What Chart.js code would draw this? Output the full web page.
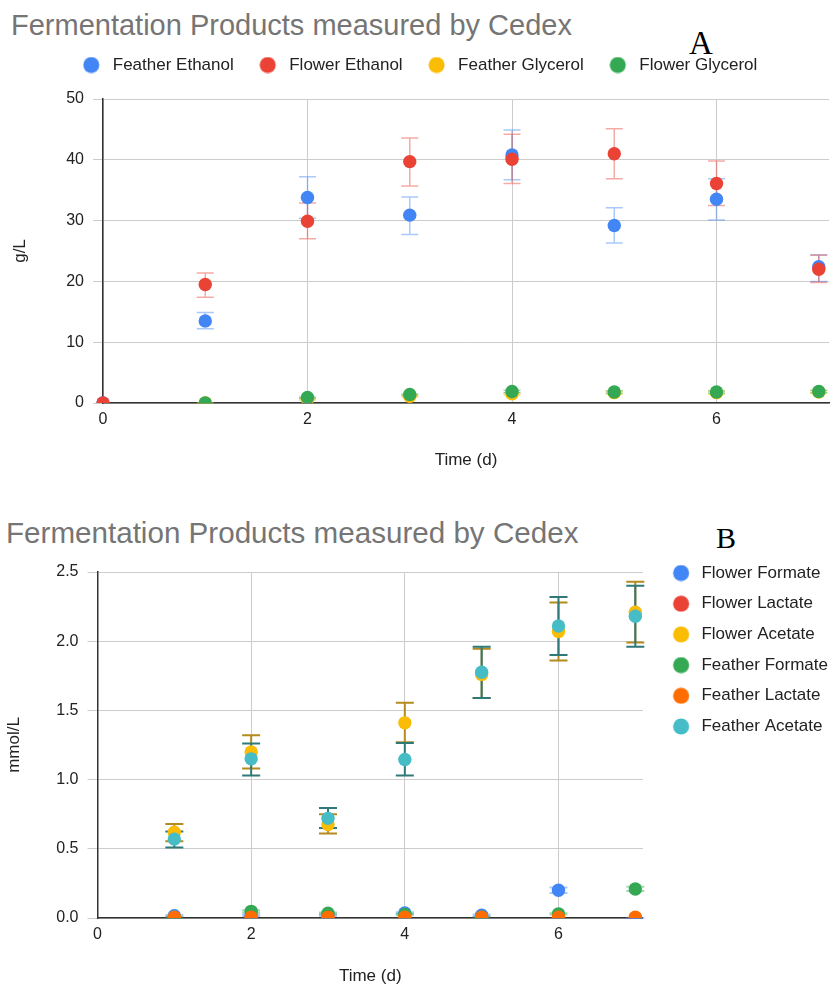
<!DOCTYPE html>
<html>
<head>
<meta charset="utf-8">
<title>Fermentation Products measured by Cedex</title>
<script src="https://cdn.jsdelivr.net/npm/chart.js@4/dist/chart.umd.min.js"></script>
<style>
  body { margin: 0; background: #fff; }
  #page { position: relative; width: 838px; height: 985px; overflow: hidden; }
  .title { position: absolute; color: #757575; font-family: "Liberation Sans", Arial, sans-serif; white-space: nowrap; }
  .tag { position: absolute; color: #000; font-family: "Liberation Serif", "Times New Roman", serif; white-space: nowrap; }
  canvas { position: absolute; left: 0; }
</style>
</head>
<body>
<div id="page">
  <div class="title" style="left:11px; top:11px; font-size:29px; line-height:29px">Fermentation Products measured by Cedex</div>
  <div class="tag" style="left:689px; top:27px; font-size:33px; line-height:33px">A</div>
  <canvas id="chartA" width="838" height="485" style="top:0"></canvas>

  <div class="title" style="left:6px; top:518px; font-size:29.6px; line-height:29.6px">Fermentation Products measured by Cedex</div>
  <div class="tag" style="left:716px; top:523px; font-size:30px; line-height:30px">B</div>
  <canvas id="chartB" width="838" height="500" style="top:490px"></canvas>
</div>

<script>
/* sampling days */
const days = [0, 1, 2, 3, 4, 5, 6, 7];

/* chart A - g/L */
const featherEthanol   = [0, 13.5, 33.8, 30.9, 40.8, 29.2, 33.5, 22.4];
const featherEthanolLo = [null, 12.2, 30.4, 27.7, 36.7, 26.3, 30.1, 20.0];
const featherEthanolHi = [null, 14.9, 37.2, 33.9, 44.9, 32.1, 36.9, 24.4];
const flowerEthanol    = [0, 19.5, 29.9, 39.7, 40.1, 41.0, 36.1, 22.0];
const flowerEthanolLo  = [null, 17.4, 27.0, 35.7, 36.1, 36.9, 32.5, 19.8];
const flowerEthanolHi  = [null, 21.4, 32.9, 43.6, 44.2, 45.1, 39.8, 24.3];
const featherGlycerol   = [null, 0, 0.6, 1.1, 1.5, 1.7, 1.7, 1.8];
const featherGlycerolLo = [null, 0, 0.5, 1.0, 1.3, 1.5, 1.5, 1.6];
const featherGlycerolHi = [null, 0, 0.7, 1.2, 1.7, 1.9, 1.9, 2.0];
const flowerGlycerol    = [null, 0, 0.9, 1.4, 1.9, 1.8, 1.8, 1.9];
const flowerGlycerolLo  = [null, 0, 0.8, 1.3, 1.7, 1.6, 1.6, 1.7];
const flowerGlycerolHi  = [null, 0, 1.0, 1.5, 2.1, 2.0, 2.0, 2.1];

/* chart B - mmol/L */
const flowerFormate    = [null, 0.017, 0.02, 0.02, 0.036, 0.02, 0.20, 0];
const flowerFormateLo  = [null, 0.012, 0.015, 0.015, 0.03, 0.015, 0.18, 0];
const flowerFormateHi  = [null, 0.022, 0.025, 0.025, 0.042, 0.025, 0.22, 0];
const flowerLactate    = [null, 0, 0, 0, 0, 0, 0, 0];
const flowerAcetate    = [null, 0.62, 1.20, 0.675, 1.41, 1.76, 2.07, 2.21];
const flowerAcetateLo  = [null, 0.555, 1.08, 0.61, 1.27, 1.59, 1.86, 1.99];
const flowerAcetateHi  = [null, 0.68, 1.32, 0.75, 1.555, 1.946, 2.28, 2.43];
const featherFormate   = [null, 0.005, 0.048, 0.034, 0.025, 0.005, 0.03, 0.21];
const featherFormateLo = [null, 0.003, 0.04, 0.028, 0.02, 0.003, 0.025, 0.195];
const featherFormateHi = [null, 0.007, 0.056, 0.04, 0.03, 0.007, 0.035, 0.225];
const featherLactate   = [null, 0.005, 0.005, 0.005, 0.005, 0.005, 0.005, 0.005];
const featherAcetate   = [null, 0.57, 1.15, 0.72, 1.145, 1.776, 2.11, 2.18];
const featherAcetateLo = [null, 0.51, 1.03, 0.65, 1.03, 1.59, 1.90, 1.96];
const featherAcetateHi = [null, 0.625, 1.26, 0.795, 1.264, 1.96, 2.32, 2.40];

const dayTicks = [0, 2, 4, 6];

const FONT = '"Liberation Sans", Arial, sans-serif';
Chart.defaults.font.family = FONT;
Chart.defaults.color = '#222';

/* build scatter points, skipping days without a measurement */
function points(values, lo, hi) {
  const out = [];
  days.forEach(function(d, i) {
    if (values[i] == null) return;
    out.push({x: d, y: values[i], lo: lo ? lo[i] : null, hi: hi ? hi[i] : null});
  });
  return out;
}

function series(label, values, lo, hi, color, errColor) {
  return {
    label: label,
    data: points(values, lo, hi),
    backgroundColor: color,
    borderColor: color,
    pointRadius: 6.7,
    pointBorderWidth: 0,
    pointHoverRadius: 6.7,
    errorColor: errColor,
    clip: {left: 10, right: 10, top: 10, bottom: 0},
    xAxisID: 'x',
    yAxisID: 'y'
  };
}

/* legend dot drawn off-centre in a small canvas, so the gap to the label matches */
function legendDot(color, w, cx) {
  const c = document.createElement('canvas');
  c.width = w; c.height = 17;
  const g = c.getContext('2d');
  g.fillStyle = color;
  g.beginPath();
  g.arc(cx, 8.5, 8, 0, Math.PI * 2);
  g.fill();
  return c;
}

function legendLabels(w, cx) {
  return function(chart) {
    const items = Chart.defaults.plugins.legend.labels.generateLabels(chart);
    items.sort(function(a, b) { return a.datasetIndex - b.datasetIndex; });
    items.forEach(function(it) { it.pointStyle = legendDot(it.fillStyle, w, cx); it.lineWidth = 0; });
    return items;
  };
}

/* error bars drawn through the chart's own scales */
const errorBars = {
  id: 'errorBars',
  beforeDatasetsDraw(chart, args, opts) {
    const ctx = chart.ctx;
    const xs = chart.scales.x;
    const ys = chart.scales.y;
    ctx.save();
    ctx.lineWidth = opts.width;
    chart.data.datasets.forEach(function(ds) {
      if (!ds.errorColor) return;
      ctx.strokeStyle = ds.errorColor;
      ds.data.forEach(function(p) {
        if (p.lo == null || p.hi == null) return;
        const px = xs.getPixelForValue(p.x);
        const top = ys.getPixelForValue(p.hi);
        const bot = ys.getPixelForValue(p.lo);
        ctx.beginPath();
        ctx.moveTo(px, top); ctx.lineTo(px, bot);
        ctx.moveTo(px - opts.cap, top); ctx.lineTo(px + opts.cap, top);
        ctx.moveTo(px - opts.cap, bot); ctx.lineTo(px + opts.cap, bot);
        ctx.stroke();
      });
    });
    ctx.restore();
  }
};

/* invisible axis used only as spacing in the layout */
function spacer(position, size) {
  return {
    type: 'linear',
    position: position,
    display: true,
    grid: {display: false, drawTicks: false},
    border: {display: false},
    ticks: {display: false},
    afterFit: function(s) { s.height = size; }
  };
}

function xAxis(height, titlePad) {
  return {
    type: 'linear',
    position: 'bottom',
    min: 0,
    max: 7.1,
    afterFit: function(s) { s.height = height; },
    afterBuildTicks: function(s) { s.ticks = dayTicks.map(function(v) { return {value: v}; }); },
    ticks: {padding: 7, font: {size: 16}, color: '#222'},
    grid: {color: '#cccccc', drawTicks: false},
    border: {color: '#333', width: 1.5},
    title: {display: true, text: 'Time (d)', font: {size: 17}, color: '#222', padding: {top: 0, bottom: titlePad}}
  };
}

function yAxis(width, max, step, text, titlePad, fmt) {
  return {
    type: 'linear',
    position: 'left',
    min: 0,
    max: max,
    afterFit: function(s) { s.width = width; },
    ticks: {stepSize: step, padding: 9, font: {size: 16}, color: '#222', callback: fmt},
    grid: {color: '#cccccc', tickLength: 10},
    border: {color: '#333', width: 1.5},
    title: {display: true, text: text, font: {size: 17}, color: '#222', padding: {top: titlePad, bottom: 0}}
  };
}

function reorder(list) {
  list.forEach(function(ds, i) { ds.order = list.length - 1 - i; });
  return list;
}

const app = {
  createChartA: function() {
    const ctx = document.getElementById('chartA').getContext('2d');
    new Chart(ctx, {
      type: 'scatter',
      data: {
        datasets: reorder([
          series('Feather Ethanol', featherEthanol, featherEthanolLo, featherEthanolHi, '#4285F4', 'rgba(66,133,244,0.45)'),
          series('Flower Ethanol', flowerEthanol, flowerEthanolLo, flowerEthanolHi, '#EA4335', 'rgba(234,67,53,0.45)'),
          series('Feather Glycerol', featherGlycerol, featherGlycerolLo, featherGlycerolHi, '#FBBC04', 'rgba(251,188,4,0.5)'),
          series('Flower Glycerol', flowerGlycerol, flowerGlycerolLo, flowerGlycerolHi, '#34A853', 'rgba(52,168,83,0.45)')
        ])
      },
      options: {
        responsive: false,
        animation: false,
        devicePixelRatio: 1,
        layout: {padding: {top: 26.5, left: 15.6, right: 9, bottom: 0}},
        scales: {
          x: xAxis(82, 14.4),
          y: yAxis(87.4, 50, 10, 'g/L', -5.8),
          padTop: spacer('top', 15.5)
        },
        plugins: {
          legend: {
            position: 'top',
            labels: {usePointStyle: true, boxWidth: 17, boxHeight: 17, padding: 30, font: {size: 17}, color: '#222', generateLabels: legendLabels(26, 8.5)}
          },
          tooltip: {enabled: false},
          errorBars: {width: 1.5, cap: 8.5}
        }
      },
      plugins: [errorBars]
    });
  },

  createChartB: function() {
    const ctx = document.getElementById('chartB').getContext('2d');
    new Chart(ctx, {
      type: 'scatter',
      data: {
        datasets: reorder([
          series('Flower Formate', flowerFormate, flowerFormateLo, flowerFormateHi, '#4285F4', 'rgba(66,133,244,0.45)'),
          series('Flower Lactate', flowerLactate, null, null, '#EA4335', null),
          series('Flower Acetate', flowerAcetate, flowerAcetateLo, flowerAcetateHi, '#FBBC04', '#B58A1E'),
          series('Feather Formate', featherFormate, featherFormateLo, featherFormateHi, '#34A853', 'rgba(52,168,83,0.45)'),
          series('Feather Lactate', featherLactate, null, null, '#FF6D01', null),
          series('Feather Acetate', featherAcetate, featherAcetateLo, featherAcetateHi, '#46BDC6', '#2F7A78')
        ])
      },
      options: {
        responsive: false,
        animation: false,
        devicePixelRatio: 1,
        layout: {padding: {top: 60.8, left: 0, right: 0, bottom: 0}},
        scales: {
          x: xAxis(72, 3.7),
          y: yAxis(97.5, 2.5, 0.5, 'mmol/L', 4.4, function(v) { return v.toFixed(1); }),
          padTop: spacer('top', 21.2)
        },
        plugins: {
          legend: {
            position: 'right',
            align: 'start',
            labels: {usePointStyle: true, pointStyleWidth: 36.2, boxHeight: 17, padding: 13.7, font: {size: 17}, color: '#222', generateLabels: legendLabels(40, 26.3)}
          },
          tooltip: {enabled: false},
          errorBars: {width: 2, cap: 9}
        }
      },
      plugins: [errorBars]
    });
  },

  init: function() {
    this.createChartA();
    this.createChartB();
  }
};

app.init();
</script>
</body>
</html>
